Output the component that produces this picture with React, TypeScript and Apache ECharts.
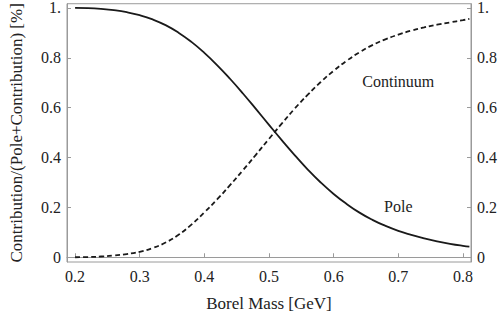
import React, { useEffect, useRef } from "react";
import * as echarts from "echarts";

const borelMass = [0.2, 0.22, 0.24, 0.26, 0.28, 0.3, 0.32, 0.34, 0.36, 0.38, 0.4, 0.42, 0.44, 0.46, 0.48, 0.5, 0.52, 0.54, 0.56, 0.58, 0.6, 0.62, 0.64, 0.66, 0.68, 0.7, 0.72, 0.74, 0.76, 0.78, 0.8, 0.81];
const pole = [1.0, 0.999, 0.996, 0.991, 0.983, 0.971, 0.954, 0.931, 0.901, 0.864, 0.82, 0.77, 0.715, 0.656, 0.594, 0.531, 0.469, 0.409, 0.352, 0.3, 0.254, 0.214, 0.179, 0.15, 0.126, 0.106, 0.09, 0.076, 0.064, 0.054, 0.046, 0.043];
const continuum = [0.0, 0.001, 0.003, 0.007, 0.013, 0.022, 0.037, 0.059, 0.09, 0.131, 0.18, 0.233, 0.29, 0.35, 0.412, 0.475, 0.537, 0.597, 0.652, 0.703, 0.748, 0.788, 0.822, 0.851, 0.874, 0.893, 0.909, 0.922, 0.933, 0.942, 0.951, 0.956];
const xTicks = [0.2, 0.3, 0.4, 0.5, 0.6, 0.7, 0.8];
const yTicks = [0, 0.2, 0.4, 0.6, 0.8, 1];
const labels = [
  { text: "Continuum", x: 0.7, y: 0.705 },
  { text: "Pole", x: 0.7, y: 0.205 },
];

const FONT = "Liberation Serif, DejaVu Serif, Times New Roman, serif";
const AXIS_GRAY = "#9a9a9a";
const TEXT = "#222";

const fmtY = (v: number) => {
  if (Math.abs(v - 1) < 1e-9) return "1.";
  if (Math.abs(v) < 1e-9) return "0";
  return v.toFixed(1);
};

const txt = (size: number) => ({ fontFamily: FONT, fontSize: size, color: TEXT, fontWeight: "normal" });

function yAxisDef(position: "left" | "right", withName: boolean) {
  return {
    type: "value",
    position,
    min: -0.019,
    max: 1.017,
    name: withName ? "Contribution/(Pole+Contribution) [%]" : "",
    nameLocation: "middle",
    nameGap: 42,
    nameTextStyle: txt(17),
    axisLine: { show: true, lineStyle: { color: AXIS_GRAY, width: 1 } },
    axisTick: {
      show: true,
      inside: true,
      length: 4,
      customValues: yTicks,
      lineStyle: { color: AXIS_GRAY },
    },
    axisLabel: {
      show: true,
      customValues: yTicks,
      formatter: fmtY,
      margin: 6,
      ...txt(16),
    },
    splitLine: { show: false },
  };
}

export default function App() {
  const ref = useRef<HTMLDivElement>(null);
  useEffect(() => {
    document.body.style.margin = "0";
    if (!ref.current) return;
    const chart = echarts.init(ref.current, undefined, { renderer: "svg" });
    const poleData = borelMass.map((x, i) => [x, pole[i]]);
    const contData = borelMass.map((x, i) => [x, continuum[i]]);
    chart.setOption({
      animation: false,
      backgroundColor: "#fff",
      textStyle: { fontFamily: FONT },
      grid: {
        left: 52,
        right: 26,
        top: 3,
        bottom: 53,
        show: true,
        borderColor: AXIS_GRAY,
        borderWidth: 1,
        backgroundColor: "transparent",
      },
      xAxis: {
        type: "value",
        min: 0.1875,
        max: 0.8125,
        name: "Borel Mass [GeV]",
        nameLocation: "middle",
        nameGap: 33,
        nameTextStyle: txt(17),
        axisLine: { show: true, lineStyle: { color: AXIS_GRAY, width: 1 } },
        axisTick: {
          show: true,
          inside: true,
          length: 4,
          customValues: xTicks,
          lineStyle: { color: AXIS_GRAY },
        },
        axisLabel: {
          show: true,
          customValues: xTicks,
          formatter: (v: number) => v.toFixed(1),
          margin: 6,
          ...txt(16),
        },
        splitLine: { show: false },
      },
      yAxis: [yAxisDef("left", true), yAxisDef("right", false)],
      series: [
        {
          name: "Pole",
          type: "line",
          data: poleData,
          smooth: true,
          showSymbol: false,
          lineStyle: { color: "#1a1a1a", width: 1.8, type: "solid" },
          markPoint: {
            symbol: "circle",
            symbolSize: 0,
            data: labels.map((l) => ({
              coord: [l.x, l.y],
              label: {
                show: true,
                formatter: l.text,
                position: "inside",
                ...txt(16),
              },
            })),
          },
        },
        {
          name: "Continuum",
          type: "line",
          data: contData,
          smooth: true,
          showSymbol: false,
          lineStyle: { color: "#1a1a1a", width: 1.8, type: [5, 3] },
        },
      ],
    });
    return () => chart.dispose();
  }, []);
  return <div ref={ref} style={{ width: 500, height: 317 }} />;
}
